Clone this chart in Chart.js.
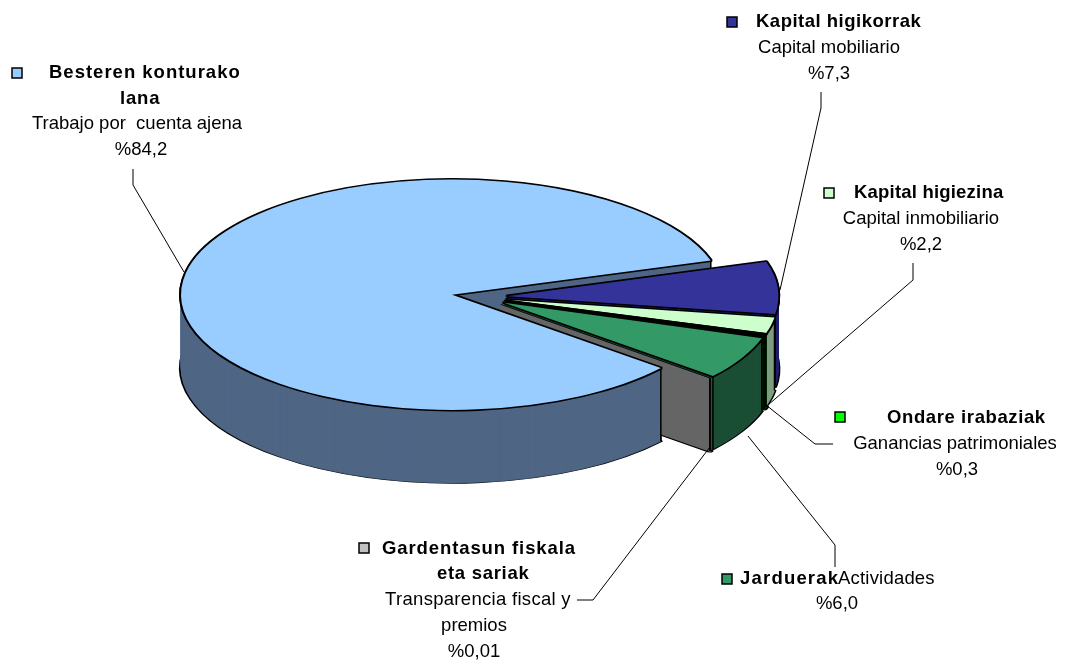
<!DOCTYPE html>
<html>
<head>
<meta charset="utf-8">
<title>Pie</title>
<script src="https://cdn.jsdelivr.net/npm/chart.js"></script>
<style>
  html, body { margin: 0; padding: 0; background: #fff; }
  canvas { display: block; }
</style>
</head>
<body>
<canvas id="chartCanvas" width="1068" height="661"></canvas>
<script>
// Data
const categories = ['Besteren konturako lana', 'Kapital higikorrak', 'Kapital higiezina', 'Ondare irabaziak', 'Jarduerak', 'Gardentasun fiskala eta sariak'];
const values = [84.2, 7.3, 2.2, 0.3, 6.0, 0.01];
const valueLabels = ['%84,2', '%7,3', '%2,2', '%0,3', '%6,0', '%0,01'];
const boldLines = [['Besteren konturako', 'lana'], ['Kapital higikorrak'], ['Kapital higiezina'], ['Ondare irabaziak'], ['Jarduerak'], ['Gardentasun fiskala', 'eta sariak']];
const plainLines = [['Trabajo por  cuenta ajena'], ['Capital mobiliario'], ['Capital inmobiliario'], ['Ganancias patrimoniales'], ['Actividades'], ['Transparencia fiscal y', 'premios']];

const topColors = ['#99CCFF', '#333399', '#CCFFCC', '#00FF00', '#339966', '#C0C0C0'];
const wallColors = ['#4F6685', '#20206E', '#7F9F7F', '#003300', '#1C4F36', '#666666'];

// 3D look
const tilt = 0.425;
const depth = 73;
const explode = 28;

// Label layout: one [x, y, align, spacing] per text line (bold, plain, value)
const labelPlaces = [
  [[49, 73, 'left', 1], [120, 99, 'left', 0.8], [137, 124, 'center', 0], [141, 150, 'center', 0]],
  [[756, 22, 'left', 0.5], [829, 48, 'center', 0], [829, 74, 'center', 0]],
  [[854, 193, 'left', 0.2], [921, 219, 'center', 0], [921, 245, 'center', 0]],
  [[887, 418, 'left', 0.6], [955, 444, 'center', 0], [957, 470, 'center', 0]],
  [[740, 579, 'left', 1.2], [838, 579, 'left', 0.2], [837, 604, 'center', 0]],
  [[382, 549, 'left', 0.9], [437, 574, 'left', 0.7], [478, 600, 'center', 0.3], [474, 626, 'center', 0], [474, 652, 'center', 0]],
];
const keyPlaces = [[17, 73], [732, 22], [829, 193], [840, 417], [727, 579], [364, 548]];
const leaders = [
  [[133, 169], [133, 185], [184, 272]],
  [[821, 92], [821, 108], [780, 290]],
  [[913, 263], [913, 280], [768, 405]],
  [[833, 444], [815, 444], [766, 405]],
  [[835, 567], [835, 545], [748, 436]],
  [[577, 600], [593, 600], [710, 447]],
];

function isSliver(arc) {
  return arc.circumference < 0.03;
}

function drawSlice(ctx, arc, y, fill, stroke, width) {
  const half = (arc.startAngle + arc.endAngle) / 2;
  const saved = arc.options;
  arc.options = { ...saved, backgroundColor: fill, borderColor: stroke, borderWidth: width, borderJoinStyle: 'round' };
  ctx.save();
  ctx.translate(arc.x, arc.y + y);
  ctx.scale(1, tilt);
  ctx.translate(Math.cos(half) * explode, Math.sin(half) * explode);
  ctx.translate(-arc.x, -arc.y);
  arc.draw(ctx);
  ctx.restore();
  arc.options = saved;
}

function rimPoint(arc, angle) {
  const half = (arc.startAngle + arc.endAngle) / 2;
  return [
    arc.x + Math.cos(half) * explode + Math.cos(angle) * arc.outerRadius,
    arc.y + tilt * (Math.sin(half) * explode + Math.sin(angle) * arc.outerRadius),
  ];
}

function drawEdge(ctx, arc, angle) {
  const p = rimPoint(arc, angle);
  ctx.strokeStyle = '#000';
  ctx.lineWidth = 1.5;
  ctx.beginPath();
  ctx.moveTo(p[0], p[1]);
  ctx.lineTo(p[0], p[1] + depth);
  ctx.stroke();
}

function drawWall(ctx, arc, i) {
  const sliver = isSliver(arc);
  drawSlice(ctx, arc, depth, '#000', '#000', sliver ? 7 : 4);
  for (let d = depth; d > 0; d--) {
    drawSlice(ctx, arc, d, wallColors[i], wallColors[i], sliver ? 3 : 1);
  }
  // vertical edges of the wall
  drawEdge(ctx, arc, arc.startAngle);
  drawEdge(ctx, arc, arc.endAngle);
}

function drawTop(ctx, arc, i) {
  if (isSliver(arc)) {
    // too thin to show a fill: mostly its outline, as in the reference
    drawSlice(ctx, arc, 0, topColors[i], '#000', arc.circumference > 0.01 ? 5 : 1.5);
    return;
  }
  [-0.8, 0, 0.8].forEach((d) => drawSlice(ctx, arc, d, '#000', '#000', 3.5));
  drawSlice(ctx, arc, 0, topColors[i], topColors[i], 0);
}

const pie3d = {
  id: 'pie3d',
  beforeDatasetsDraw(chart) {
    const ctx = chart.ctx;
    const arcs = chart.getDatasetMeta(0).data;
    const big = arcs[0];

    drawWall(ctx, big, 0);

    // the other walls must stay behind the front wall of the big slice
    const half = (big.startAngle + big.endAngle) / 2;
    const apexX = big.x + Math.cos(half) * explode;
    const apexY = big.y + tilt * Math.sin(half) * explode;
    const rim = rimPoint(big, big.startAngle);
    ctx.save();
    ctx.beginPath();
    ctx.moveTo(apexX, 0);
    ctx.lineTo(apexX, apexY);
    ctx.lineTo(rim[0], rim[1]);
    ctx.lineTo(rim[0], chart.height);
    ctx.lineTo(chart.width, chart.height);
    ctx.lineTo(chart.width, 0);
    ctx.closePath();
    ctx.clip();
    for (let i = 1; i < arcs.length; i++) drawWall(ctx, arcs[i], i);
    ctx.restore();
    drawEdge(ctx, big, big.startAngle);

    drawTop(ctx, big, 0);
    for (let i = 1; i < arcs.length; i++) drawTop(ctx, arcs[i], i);
    return false;
  },
  afterDraw(chart) {
    const ctx = chart.ctx;
    // leader lines
    ctx.strokeStyle = '#000';
    ctx.lineWidth = 1;
    leaders.forEach((pts) => {
      ctx.beginPath();
      pts.forEach((p, n) => (n ? ctx.lineTo(p[0], p[1]) : ctx.moveTo(p[0], p[1])));
      ctx.stroke();
    });
    // labels
    ctx.fillStyle = '#000';
    ctx.textBaseline = 'middle';
    categories.forEach((c, i) => {
      const k = keyPlaces[i];
      ctx.fillStyle = topColors[i];
      ctx.fillRect(k[0] - 5, k[1] - 5, 10, 10);
      ctx.lineWidth = 1.5;
      ctx.strokeRect(k[0] - 5, k[1] - 5, 10, 10);
      ctx.fillStyle = '#000';
      const lines = boldLines[i].concat(plainLines[i], [valueLabels[i]]);
      lines.forEach((line, n) => {
        const p = labelPlaces[i][n];
        ctx.font = (n < boldLines[i].length ? 'bold ' : '') + '18.5px "Liberation Sans"';
        ctx.textAlign = p[2];
        ctx.letterSpacing = p[3] + 'px';
        ctx.fillText(line, p[0], p[1]);
      });
    });
    ctx.letterSpacing = '0px';
  },
};

new Chart(document.getElementById('chartCanvas').getContext('2d'), {
  type: 'pie',
  data: {
    labels: categories,
    datasets: [{ data: values, backgroundColor: topColors, borderWidth: 0 }],
  },
  options: {
    responsive: false,
    animation: false,
    rotation: 129.6,
    radius: 271,
    layout: { padding: { right: 109, bottom: 67 } },
    plugins: { legend: { display: false }, tooltip: { enabled: false } },
  },
  plugins: [pie3d],
});
</script>
</body>
</html>
